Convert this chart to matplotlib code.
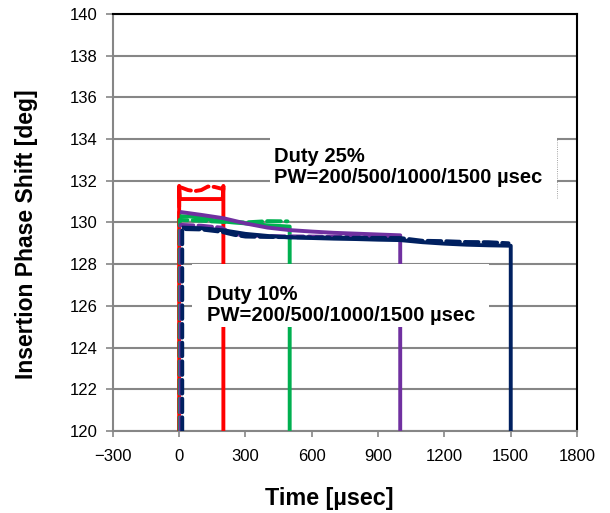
"""Insertion phase shift vs time for several pulse widths (Duty 10% / 25%)."""

import matplotlib

matplotlib.use("Agg")
import matplotlib.pyplot as plt  # noqa: E402
from matplotlib.patches import Rectangle  # noqa: E402

plt.rcParams["font.family"] = ["Liberation Sans", "DejaVu Sans"]

# --- data (time in usec, phase in deg) ---
# solid traces: flat top then the falling edge at the end of the pulse
pw200_solid_t = [0, 0, 3, 197, 200, 200]
pw200_solid_y = [120, 131.75, 131.12, 131.12, 131.75, 120]
pw500_solid_t = [2, 50, 100, 150, 200, 300, 400, 500, 500]
pw500_solid_y = [130.3, 130.28, 130.22, 130.12, 130.04, 129.95, 129.86, 129.8, 120]
pw1000_solid_t = [4, 100, 200, 300, 400, 500, 600, 700, 800, 900, 1000, 1000]
pw1000_solid_y = [130.5, 130.36, 130.2, 129.95, 129.75, 129.63, 129.56, 129.5,
                  129.46, 129.42, 129.38, 120]
pw1500_solid_t = [12, 100, 200, 300, 400, 500, 600, 700, 800, 900, 1000, 1100,
                  1200, 1300, 1400, 1500, 1500]
pw1500_solid_y = [129.75, 129.72, 129.62, 129.45, 129.35, 129.28, 129.25, 129.22,
                  129.2, 129.17, 129.15, 129.05, 128.98, 128.93, 128.9, 128.88, 120]

# dashed traces: rising edge then flat top
pw200_dash_t = [0, 0, 15, 40, 70, 100, 130, 160, 190, 200]
pw200_dash_y = [120, 131.7, 131.65, 131.55, 131.5, 131.55, 131.72, 131.7, 131.62, 131.6]
pw500_dash_t = [2, 2, 100, 200, 300, 400, 490]
pw500_dash_y = [120, 130.12, 130.08, 130.02, 130.0, 130.06, 130.05]
pw1000_dash_t = [6, 6, 100, 190, 240, 300, 400, 600, 800, 990]
pw1000_dash_y = [120, 129.88, 129.84, 129.75, 129.45, 129.38, 129.34, 129.32, 129.3, 129.3]
pw1500_dash_t = [14, 14, 100, 190, 250, 300, 400, 600, 800, 1000, 1100, 1200, 1300,
                 1400, 1490]
pw1500_dash_y = [120, 129.68, 129.66, 129.55, 129.4, 129.32, 129.3, 129.28, 129.26,
                 129.25, 129.12, 129.1, 129.06, 129.05, 129.0]

x_ticks = [-300, 0, 300, 600, 900, 1200, 1500, 1800]
x_tick_labels = ["\u2212300", "0", "300", "600", "900", "1200", "1500", "1800"]
y_ticks = [120, 122, 124, 126, 128, 130, 132, 134, 136, 138, 140]

RED = "#FF0000"
GREEN = "#00B050"
PURPLE = "#7030A0"
NAVY = "#002060"
GRAY = "#868686"

fig = plt.figure(figsize=(6.10, 5.13), dpi=100)
ax = fig.add_axes([0.185, 0.160, 0.761, 0.813])

lw = 2.8
series = [
    (pw200_solid_t, pw200_solid_y, pw200_dash_t, pw200_dash_y, RED),
    (pw500_solid_t, pw500_solid_y, pw500_dash_t, pw500_dash_y, GREEN),
    (pw1000_solid_t, pw1000_solid_y, pw1000_dash_t, pw1000_dash_y, PURPLE),
    (pw1500_solid_t, pw1500_solid_y, pw1500_dash_t, pw1500_dash_y, NAVY),
]
for st, sy, dt, dy, col in series:
    ax.plot(st, sy, color=col, lw=lw, solid_capstyle="butt", zorder=3)
    ax.plot(dt, dy, color=col, lw=lw, ls=(0, (3.5, 1.3)), dash_capstyle="round", zorder=3)

ax.set_xlim(-300, 1800)
ax.set_ylim(120, 140)
ax.set_xticks(x_ticks)
ax.set_xticklabels(x_tick_labels)
ax.set_yticks(y_ticks)
ax.tick_params(axis="x", direction="out", length=4, width=1.2, color=GRAY,
               labelsize=12, pad=9)
ax.tick_params(axis="y", direction="out", length=5, width=1.2, color=GRAY,
               labelsize=12, pad=6)

ax.yaxis.grid(True, color=GRAY, lw=1.5, zorder=1)
ax.set_axisbelow(True)
for side in ("left", "bottom"):
    ax.spines[side].set_color(GRAY)
    ax.spines[side].set_linewidth(1.5)
for side in ("top", "right"):
    ax.spines[side].set_color("black")
    ax.spines[side].set_linewidth(1.5)

ax.set_xlabel("Time [\u00b5sec]", fontsize=16.8, fontweight="bold")
ax.xaxis.set_label_coords(0.466, -0.134)
ax.set_ylabel("Insertion Phase Shift [deg]", fontsize=16.5, fontweight="bold")
ax.yaxis.set_label_coords(-0.185, 0.472)
ax.yaxis.label.set_va("center")

# white label boxes covering grid / traces
ax.add_patch(Rectangle((410, 131.15), 1300, 3.0, facecolor="white", edgecolor="none", zorder=4))
ax.plot([1710, 1710], [131.15, 134.0], color=GRAY, lw=0.6, ls=":", zorder=4)
ax.add_patch(Rectangle((60, 125.0), 1340, 3.0, facecolor="white", edgecolor="none", zorder=4))

ax.text(428, 132.65, "Duty 25%\nPW=200/500/1000/1500 \u00b5sec", fontsize=14.5,
        fontweight="bold", ha="left", va="center", linespacing=1.12, zorder=5)
ax.text(126, 126.05, "Duty 10%\nPW=200/500/1000/1500 \u00b5sec", fontsize=14.5,
        fontweight="bold", ha="left", va="center", linespacing=1.12, zorder=5)

fig.savefig("out.png", dpi=100)
